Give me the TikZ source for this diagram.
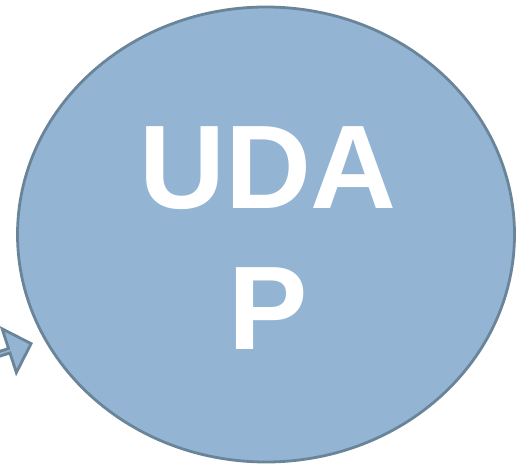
\documentclass[tikz,border=0pt]{standalone}
\usepackage{fontspec}
\setmainfont{Liberation Sans}
\usepackage{tikz}
\usetikzlibrary{shapes.geometric,shapes.arrows}

\definecolor{blobfill}{HTML}{93B4D2}
\definecolor{blobline}{HTML}{6A8499}

\tikzset{
  blob/.style={ellipse,fill=blobfill,draw=blobline,line width=2.8pt,
    inner sep=0pt,align=center,text=white,
    font=\fontsize{119}{141}\selectfont\bfseries},
  inflow/.style={single arrow,fill=blobfill,draw=blobline,line width=2.8pt,
    minimum height=70pt,minimum width=46pt,single arrow head extend=12.5pt,
    inner sep=0pt}
}

\begin{document}
\begin{tikzpicture}[x=1pt,y=-1pt]
  % page frame
  \useasboundingbox (0,0) rectangle (516,465);
  \clip (0,0) rectangle (516,465);
  % incoming block arrow, cut by the left edge
  \node[inflow,rotate=18,anchor=tip] (inarrow) at (33,343) {};
  % the big ellipse, then its label
  \node[blob,minimum width=497pt,minimum height=455pt] (udap) at (266,234.5) {};
  \node[align=center,text=white,inner sep=0pt,
    font=\fontsize{119}{141}\selectfont\bfseries] (udaptext) at (268,238) {UDA\\P};
\end{tikzpicture}
\end{document}
